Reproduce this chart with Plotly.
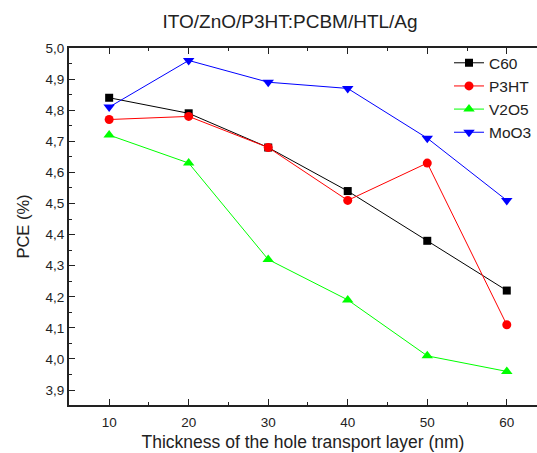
import plotly.graph_objects as go

thickness = [10, 20, 30, 40, 50, 60]
c60 = [4.84, 4.79, 4.68, 4.54, 4.38, 4.22]
p3ht = [4.77, 4.78, 4.68, 4.51, 4.63, 4.11]
v2o5 = [4.72, 4.63, 4.32, 4.19, 4.01, 3.96]
moo3 = [4.81, 4.96, 4.89, 4.87, 4.71, 4.51]
y_ticks = [3.9, 4.0, 4.1, 4.2, 4.3, 4.4, 4.5, 4.6, 4.7, 4.8, 4.9, 5.0]
x_ticks = [10, 20, 30, 40, 50, 60]

series = [
    ("C60", c60, "#000000", "square", 8),
    ("P3HT", p3ht, "#ff0000", "circle", 9),
    ("V2O5", v2o5, "#00ff00", "triangle-up", 10),
    ("MoO3", moo3, "#0000ff", "triangle-down", 10),
]

fig = go.Figure()
for name, vals, col, sym, sz in series:
    fig.add_trace(go.Scatter(
        x=thickness, y=vals, name=name, mode="lines+markers",
        line=dict(color=col, width=1),
        marker=dict(color=col, symbol=sym, size=sz),
    ))

axis_font = dict(family="Liberation Sans, Arial, sans-serif", size=13.5, color="#222")
fig.update_layout(
    width=537, height=453,
    margin=dict(l=69, r=0, t=48, b=48),
    paper_bgcolor="white", plot_bgcolor="white",
    separators=",.",
    font=dict(family="Liberation Sans, Arial, sans-serif", color="#222"),
    title=dict(text="ITO/ZnO/P3HT:PCBM/HTL/Ag", x=290 / 537, xref="container", xanchor="center",
               y=1 - 21 / 453, yref="container", yanchor="middle",
               font=dict(size=19, color="#222")),
    showlegend=True,
    legend=dict(x=1.0, y=1.005, xanchor="right", yanchor="top",
                bgcolor="rgba(0,0,0,0)", font=dict(size=15.5, color="#222"),
                itemwidth=30, tracegroupgap=0),
    xaxis=dict(
        range=[4.95, 63.8], tickvals=x_ticks, ticks="inside", ticklen=6, tickwidth=1,
        tickcolor="#222", showline=True, linecolor="#222", linewidth=2, mirror="ticks",
        showgrid=False, zeroline=False, tickfont=axis_font, automargin=False,
        ticklabelstandoff=4,
        minor=dict(dtick=5, tick0=5, ticks="inside", ticklen=3, tickcolor="#222"),
        title=dict(text="Thickness of the hole transport layer (nm)", font=dict(size=17.5, color="#222"), standoff=7),
    ),
    yaxis=dict(
        range=[3.852, 5.0], tickvals=y_ticks, tickformat=".1f", ticks="inside", ticklen=6,
        tickwidth=1, tickcolor="#222", showline=True, linecolor="#222", linewidth=2,
        mirror=False, showgrid=False, zeroline=False, tickfont=axis_font, automargin=False,
        minor=dict(dtick=0.05, tick0=3.85, ticks="inside", ticklen=3, tickcolor="#222"),
        title=dict(text="PCE (%)", font=dict(size=16.5, color="#222"), standoff=12),
    ),
)

fig.write_html("out.html", config={"displayModeBar": False},
               post_script="document.body.style.margin='0';")
